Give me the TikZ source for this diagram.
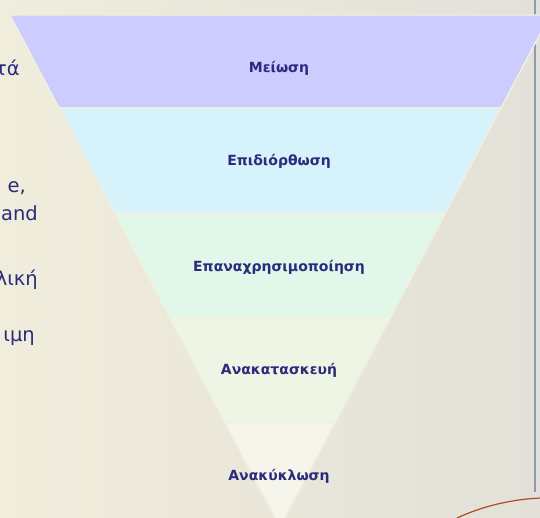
\documentclass[tikz,border=0pt]{standalone}
\usepackage{fontspec}
\setmainfont{DejaVu Sans}
\usepackage{xcolor}
\definecolor{navytext}{HTML}{2B2A7E}
\definecolor{paper}{HTML}{F1EDDC}
\definecolor{papergrey}{HTML}{E2E0D8}
\definecolor{rimline}{HTML}{F3EFDF}
\definecolor{edgeblue}{HTML}{8E9AAD}
\definecolor{bandone}{HTML}{CCCCFF}
\definecolor{bandtwo}{HTML}{D6F2FA}
\definecolor{bandthree}{HTML}{E0F7EA}
\definecolor{bandfour}{HTML}{EEF5E5}
\definecolor{bandfive}{HTML}{F6F5EC}
\definecolor{wire}{HTML}{B04A28}
\tikzset{
  band/.style={fill=#1, draw=rimline, line width=1.4pt, line join=miter},
  lbl/.style={font=\fontsize{14}{16}\selectfont\bfseries, text=navytext,
    inner sep=0pt},
  frag/.style={font=\fontsize{19.5}{22}\selectfont, text=navytext,
    anchor=base east, inner sep=0pt}
}

\begin{document}
\begin{tikzpicture}[x=1pt, y=-1pt]
  \path[use as bounding box] (0,0) rectangle (540,517);
  \clip (0,0) rectangle (540,517);
  \shade[left color=paper, right color=papergrey] (0,0) rectangle (540,517);
  \draw[edgeblue, line width=2pt] (535,0) -- (535,492);
  \draw[wire, line width=1.2pt] (457,518) .. controls (485,505) and (515,499) .. (541,498);
  % cut-off text of the slide's left column
  \node[frag] (fragA) at (20,75) {τά};
  \node[frag] (fragB) at (26,192) {e,};
  \node[frag] (fragC) at (38,220) {and};
  \node[frag] (fragD) at (38,285) {λική};
  \node[frag] (fragE) at (35,341) {ιμη};
  % funnel bands, top to bottom
  \foreach \yt/\yb/\col in {15/108/bandone, 108/213/bandtwo,
      213/317/bandthree, 317/423/bandfour, 423/527/bandfive}{
    \pgfmathsetmacro\wt{0.52734*(527-\yt)}
    \pgfmathsetmacro\wb{0.52734*(527-\yb)}
    \path[band=\col] (280-\wt,\yt) -- (280+\wt,\yt) -- (280+\wb,\yb)
      -- (280-\wb,\yb) -- cycle;
  }
  \node[lbl] (reduce)  at (279,68)  {Μείωση};
  \node[lbl] (repair)  at (279,161) {Επιδιόρθωση};
  \node[lbl] (reuse)   at (279,267) {Επαναχρησιμοποίηση};
  \node[lbl] (rebuild) at (279,370) {Ανακατασκευή};
  \node[lbl] (recycle) at (279,476) {Ανακύκλωση};
\end{tikzpicture}
\end{document}
